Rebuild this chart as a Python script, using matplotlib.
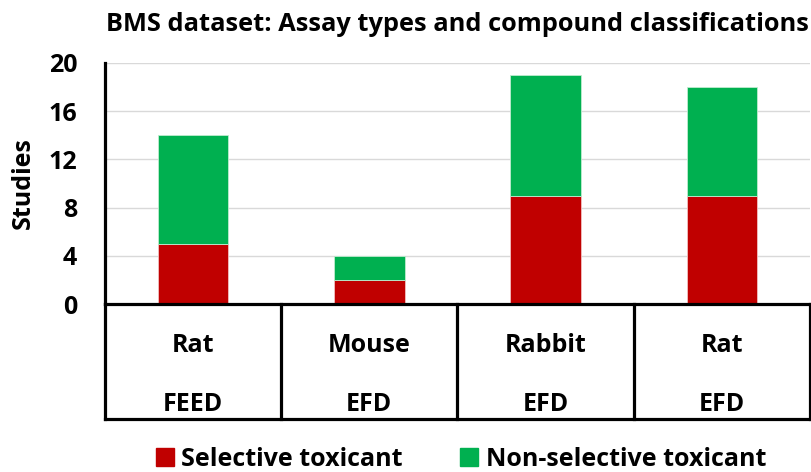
import matplotlib
matplotlib.use("Agg")
import matplotlib.pyplot as plt
from matplotlib.patches import Patch
import numpy as np

species = ["Rat", "Mouse", "Rabbit", "Rat"]
assays = ["FEED", "EFD", "EFD", "EFD"]
selective = [5, 2, 9, 9]
non_selective = [9, 2, 10, 9]
yticks = [0, 4, 8, 12, 16, 20]

RED = "#C00000"
GREEN = "#00B050"

plt.rcParams['font.family'] = ['Open Sans', 'DejaVu Sans']
plt.rcParams['font.weight'] = 'bold'
FS = 18

W, H = 812, 472
fig = plt.figure(figsize=(W / 100, H / 100), dpi=100)
left, right = 105, 810
top, bottom = 63, 304
ax = fig.add_axes([left / W, 1 - bottom / H, (right - left) / W, (bottom - top) / H])

x = np.arange(len(species))
ax.bar(x, selective, width=0.4, color=RED, edgecolor="#f2c0c0", linewidth=0.6, zorder=3)
ax.bar(x, non_selective, width=0.4, bottom=selective, color=GREEN, edgecolor="#bfeccf",
       linewidth=0.6, zorder=3)

ax.set_xlim(-0.5, len(species) - 0.5)
ax.set_ylim(0, 20)
ax.set_yticks(yticks)
ax.set_yticklabels([str(t) for t in yticks], fontsize=FS, fontweight='bold')
ax.tick_params(axis='y', length=0, pad=20)
ax.set_xticks([])
ax.yaxis.grid(True, color="#D9D9D9", linewidth=1.0, zorder=0)
ax.set_axisbelow(True)
for s in ["top", "right"]:
    ax.spines[s].set_visible(False)
ax.spines["left"].set_linewidth(2.3)
ax.spines["bottom"].set_linewidth(2.3)
ax.spines["left"].set_zorder(5)
ax.spines["bottom"].set_zorder(5)

ax.set_ylabel("Studies", fontsize=FS, fontweight='bold', labelpad=9)

# table below the axis
trans = ax.get_xaxis_transform()
tb = -(419 - bottom) / (bottom - top)
lw = 2.3
for b in np.arange(-0.5, len(species), 1.0):
    ax.plot([b, b], [0, tb], color="black", lw=lw, transform=trans, clip_on=False,
            solid_capstyle='projecting')
ax.plot([-0.5, len(species) - 0.5], [tb, tb], color="black", lw=lw, transform=trans,
        clip_on=False, solid_capstyle='projecting')
y1 = -(345 - bottom) / (bottom - top)
y2 = -(405 - bottom) / (bottom - top)
for xi, sp, asy in zip(x, species, assays):
    ax.text(xi, y1, sp, transform=trans, ha="center", va="center", fontsize=FS,
            fontweight="bold")
    ax.text(xi, y2, asy, transform=trans, ha="center", va="center", fontsize=FS,
            fontweight="bold")

ax.set_title("BMS dataset: Assay types and compound classifications", fontsize=18.3,
             fontweight="bold", pad=23)

handles = [Patch(color=RED, label="Selective toxicant"),
           Patch(color=GREEN, label="Non-selective toxicant")]
fig.legend(handles=handles, loc="center", bbox_to_anchor=(461 / W, 1 - 459 / H), ncol=2,
           frameon=False, fontsize=FS, handlelength=0.72, handleheight=0.72,
           handletextpad=0.3, columnspacing=2.3, borderaxespad=0)

fig.savefig("out.png", dpi=100)
